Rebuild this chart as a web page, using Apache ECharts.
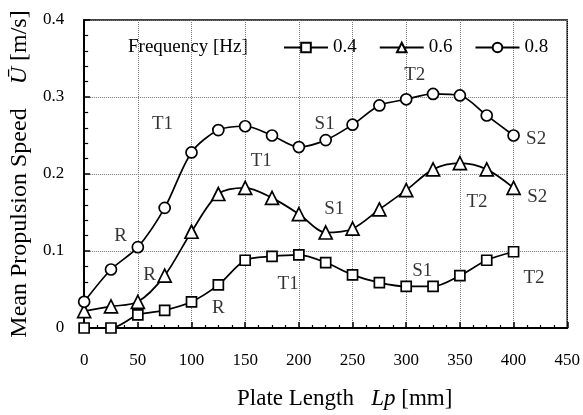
<!DOCTYPE html>
<html>
<head>
<meta charset="utf-8">
<script src="https://cdn.jsdelivr.net/npm/echarts@6/dist/echarts.min.js"></script>
<style>
  html, body { margin: 0; padding: 0; background: #fff; }
  #chart { width: 583px; height: 415px; }
</style>
</head>
<body>
<div id="chart"></div>
<script>
// Plate lengths Lp [mm]
const plateLength = [0, 25, 50, 75, 100, 125, 150, 175, 200, 225, 250, 275, 300, 325, 350, 375, 400];

// Mean propulsion speed [m/s] for each oscillation frequency
const speed04 = [0.000, 0.000, 0.017, 0.023, 0.034, 0.056, 0.088, 0.093, 0.095, 0.085, 0.069, 0.059, 0.054, 0.054, 0.068, 0.088, 0.099];
const speed06 = [0.022, 0.028, 0.034, 0.068, 0.125, 0.174, 0.182, 0.169, 0.148, 0.124, 0.129, 0.154, 0.179, 0.206, 0.214, 0.206, 0.182];
const speed08 = [0.034, 0.076, 0.105, 0.156, 0.228, 0.257, 0.262, 0.250, 0.235, 0.244, 0.264, 0.289, 0.297, 0.304, 0.302, 0.276, 0.250];

const freqNames = ['0.4', '0.6', '0.8'];
const xTicks = [0, 50, 100, 150, 200, 250, 300, 350, 400, 450];
const yTicks = [0, 0.1, 0.2, 0.3, 0.4];

// Regime labels (R: rowing, T: transition, S: swimming) placed in data space
const noteText = ['R', 'T1', 'S1', 'T2', 'S2',  'R', 'T1', 'S1', 'T2', 'S2',  'R', 'T1', 'S1', 'T2'];
const noteX    = [34,  73,  224, 308, 421,      61,  165, 233, 366, 422,      125, 190, 315, 419];
const noteY    = [0.119, 0.265, 0.265, 0.329, 0.246,  0.069, 0.217, 0.154, 0.163, 0.170,  0.026, 0.057, 0.074, 0.065];

const SERIF = '"Liberation Serif", "DejaVu Serif", serif';

function pairs(vals) { return plateLength.map((x, i) => [x, vals[i]]); }

const markerStyle = { color: '#fff', borderColor: '#000', borderWidth: 1.7 };
function lineSeries(name, vals, symbol, size) {
  return {
    name: name, type: 'line', data: pairs(vals),
    smooth: 0.3, symbol: symbol, symbolSize: size, showAllSymbol: true,
    lineStyle: { color: '#000', width: 1.7 },
    itemStyle: markerStyle,
    emphasis: { disabled: true }, z: 3
  };
}

const chart = echarts.init(document.getElementById('chart'), null, { renderer: 'canvas' });
chart.setOption({
  animation: false,
  backgroundColor: '#fff',
  textStyle: { fontFamily: SERIF, color: '#000' },
  grid: { left: 84, right: 15, top: 20, bottom: 82, show: true, borderColor: '#000', borderWidth: 1.5, containLabel: false },
  graphic: [{
    type: 'text', left: 128, top: 38,
    style: { text: 'Frequency [Hz]', font: '19px ' + SERIF, fill: '#000' }
  }],
  legend: {
    data: freqNames, left: 283, top: 38, itemWidth: 44, itemHeight: 12, itemGap: 22, padding: 0,
    textStyle: { fontFamily: SERIF, fontSize: 19, color: '#000' },
    selectedMode: false
  },
  xAxis: {
    type: 'value', min: xTicks[0], max: xTicks[xTicks.length - 1], interval: 50,
    name: 'Plate Length   {i|Lp} [mm]', nameLocation: 'middle', nameGap: 59,
    nameTextStyle: { fontFamily: SERIF, fontSize: 23, color: '#000', padding: [0, 0, 0, 38],
      rich: { i: { fontFamily: SERIF, fontStyle: 'italic', fontSize: 23 } } },
    axisLine: { show: true, lineStyle: { color: '#000', width: 2 } },
    axisTick: { show: true, inside: true, length: 6, lineStyle: { color: '#000', width: 1.5 } },
    minorTick: { show: true, splitNumber: 4, length: 3, lineStyle: { color: '#000', width: 1.2 } },
    axisLabel: { fontFamily: SERIF, fontSize: 17, color: '#000', margin: 24 },
    splitLine: { show: true, lineStyle: { color: '#777', type: 'dotted', width: 1 } }
  },
  yAxis: {
    type: 'value', min: yTicks[0], max: yTicks[yTicks.length - 1], interval: 0.1,
    name: 'Mean Propulsion Speed    {i|Ū} [m/s]', nameLocation: 'middle', nameGap: 46,
    nameTextStyle: { fontFamily: SERIF, fontSize: 24, color: '#000',
      rich: { i: { fontFamily: SERIF, fontStyle: 'italic', fontSize: 24 } } },
    axisLine: { show: true, lineStyle: { color: '#000', width: 2 } },
    axisTick: { show: true, inside: true, length: 6, lineStyle: { color: '#000', width: 1.5 } },
    minorTick: { show: true, splitNumber: 5, length: 4, lineStyle: { color: '#000', width: 1.2 } },
    axisLabel: { fontFamily: SERIF, fontSize: 17, color: '#000', margin: 20,
      formatter: v => (v === 0 ? '0' : v.toFixed(1)) },
    splitLine: { show: true, lineStyle: { color: '#777', type: 'dotted', width: 1 } }
  },
  series: [
    lineSeries(freqNames[0], speed04, 'rect', 10),
    lineSeries(freqNames[1], speed06, 'triangle', 13),
    lineSeries(freqNames[2], speed08, 'circle', 11),
    {
      type: 'scatter', symbolSize: 0, silent: true, z: 4,
      data: noteText.map((t, i) => ({ value: [noteX[i], noteY[i]], name: t })),
      label: { show: true, position: 'inside', formatter: p => p.name,
        fontFamily: SERIF, fontSize: 19, color: '#000' }
    }
  ]
});
</script>
</body>
</html>
